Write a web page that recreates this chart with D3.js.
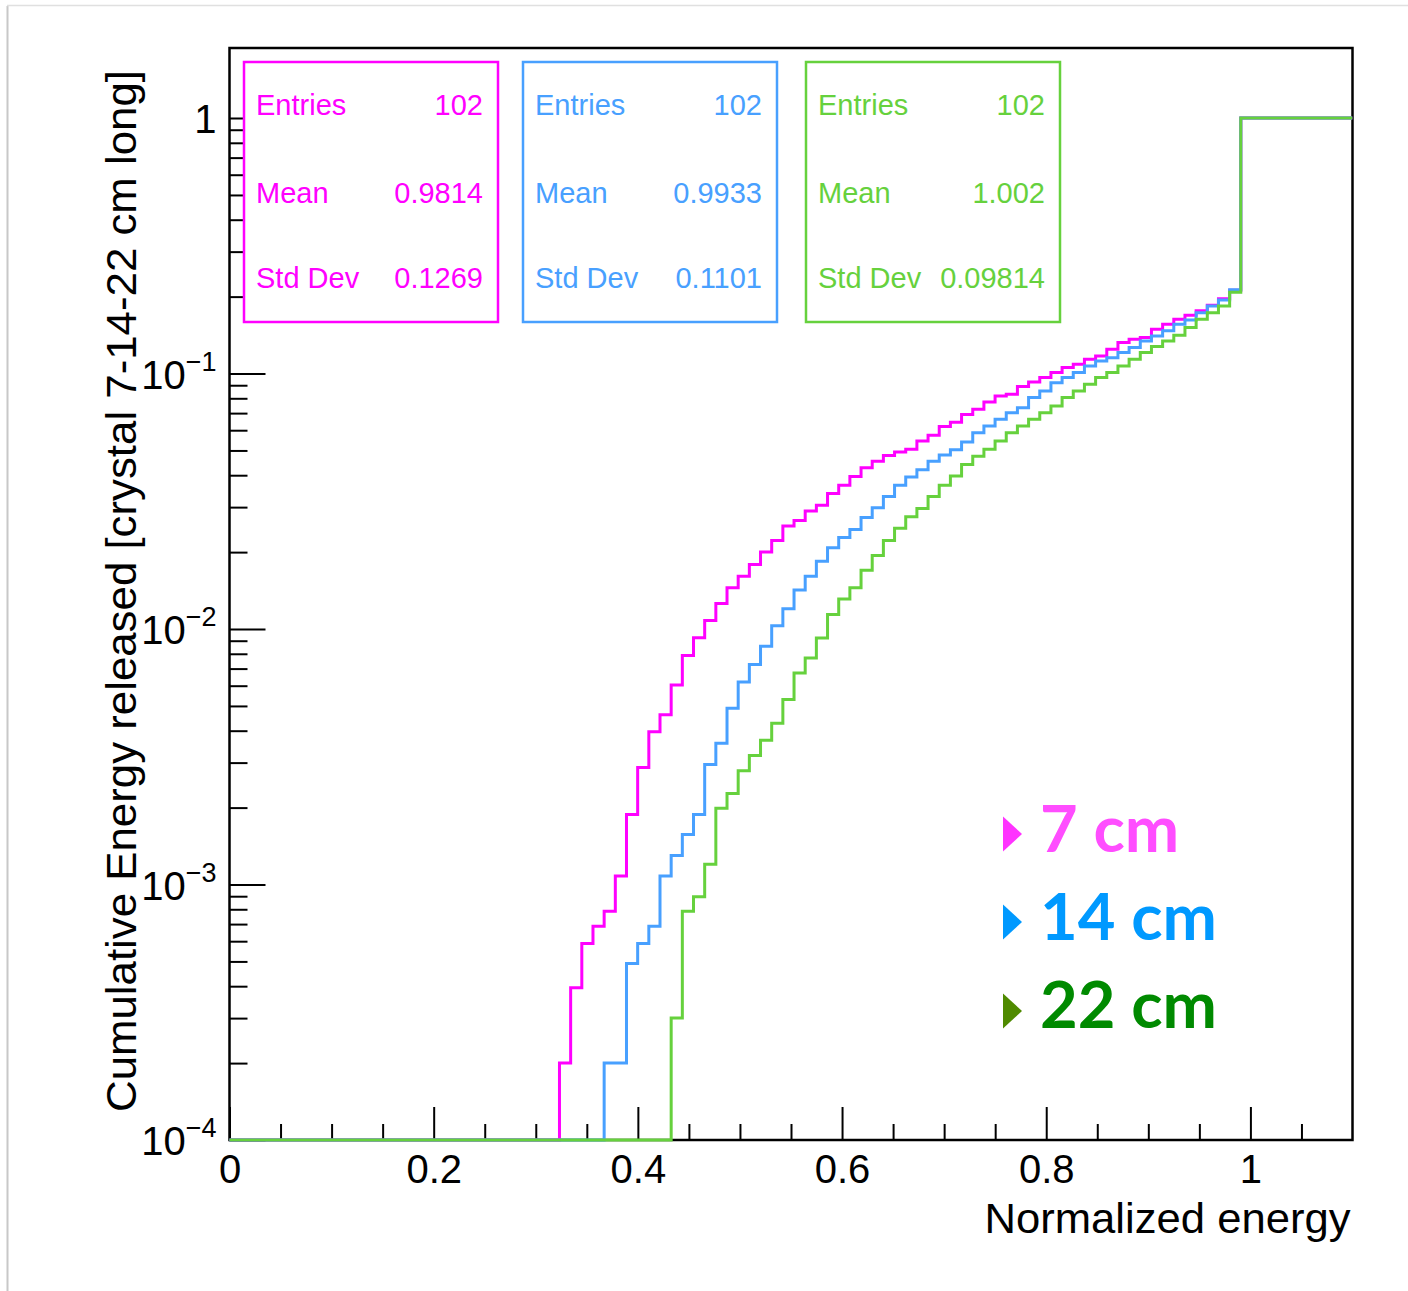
<!DOCTYPE html>
<html>
<head>
<meta charset="utf-8">
<script src="https://cdn.jsdelivr.net/npm/d3@7/dist/d3.min.js"></script>
<style>
  body { margin: 0; background: #fff; }
  svg { display: block; font-family: "Liberation Sans", Arial, sans-serif; }
</style>
</head>
<body>
<svg id="canvas"></svg>
<script>
// histogram binning (101 bins from -0.005 to 1.1)
const binLow = -0.005;
const binHigh = 1.1;
const binCount = 101;

// cumulative values, one per bin, starting at the first non-empty bin
const magentaStart = 30;
const magentaValues = [
  2.0e-4, 3.94e-4, 5.88e-4, 6.87e-4, 7.85e-4, 1.08e-3, 1.88e-3, 2.87e-3, 3.96e-3, 4.62e-3,
  6.04e-3, 7.87e-3, 9.24e-3, 1.08e-2, 1.26e-2, 1.45e-2, 1.61e-2, 1.79e-2, 2.0e-2, 2.22e-2,
  2.53e-2, 2.66e-2, 2.9e-2, 3.05e-2, 3.39e-2, 3.65e-2, 3.95e-2, 4.28e-2, 4.54e-2, 4.78e-2,
  4.93e-2, 5.05e-2, 5.44e-2, 5.73e-2, 6.2e-2, 6.45e-2, 0.0692, 0.0724, 0.0774, 0.0817,
  0.0829, 0.0889, 0.0927, 0.0964, 0.1009, 0.1055, 0.1087, 0.1137, 0.1172, 0.1245,
  0.1322, 0.1362, 0.1383, 0.149, 0.156, 0.163, 0.169, 0.176, 0.185, 0.196,
  0.212, 1, 1, 1, 1, 1, 1, 1, 1, 1, 1
];

const blueStart = 34;
const blueValues = [
  2.0e-4, 2.0e-4, 4.91e-4, 5.88e-4, 6.87e-4, 1.08e-3, 1.30e-3, 1.57e-3, 1.88e-3, 2.95e-3,
  3.57e-3, 4.9e-3, 6.2e-3, 7.26e-3, 8.57e-3, 1.03e-2, 1.2e-2, 1.42e-2, 1.61e-2, 1.84e-2,
  2.08e-2, 2.28e-2, 2.45e-2, 2.73e-2, 2.98e-2, 3.3e-2, 3.65e-2, 3.94e-2, 4.2e-2, 4.54e-2,
  4.8e-2, 5.03e-2, 0.0539, 0.0587, 0.0623, 0.0662, 0.0703, 0.0735, 0.0805, 0.0855,
  0.0921, 0.0964, 0.1009, 0.1071, 0.112, 0.1154, 0.1208, 0.1264, 0.1342, 0.1403,
  0.1469, 0.156, 0.162, 0.173, 0.184, 0.194, 0.213, 1, 1, 1, 1, 1, 1, 1, 1, 1, 1
];

const greenStart = 40;
const greenValues = [
  3.0e-4, 7.85e-4, 8.95e-4, 1.2e-3, 1.99e-3, 2.27e-3, 2.79e-3, 3.2e-3, 3.67e-3, 4.28e-3,
  5.3e-3, 6.73e-3, 7.71e-3, 9.23e-3, 1.14e-2, 1.31e-2, 1.45e-2, 1.7e-2, 1.94e-2, 2.22e-2,
  2.48e-2, 2.75e-2, 2.96e-2, 3.3e-2, 3.65e-2, 3.97e-2, 0.0441, 0.0475, 0.0505, 0.0544,
  0.0587, 0.0623, 0.0662, 0.0703, 0.0746, 0.0805, 0.0855, 0.0908, 0.0964, 0.1009,
  0.1071, 0.1137, 0.1208, 0.1276, 0.1342, 0.1412, 0.1514, 0.163, 0.173, 0.184,
  0.208, 1, 1, 1, 1, 1, 1, 1, 1, 1, 1
];

const legendNames = ["7 cm", "14 cm", "22 cm"];
const statLabels = ["Entries", "Mean", "Std Dev"];
const magentaStats = ["102", "0.9814", "0.1269"];
const blueStats = ["102", "0.9933", "0.1101"];
const greenStats = ["102", "1.002", "0.09814"];

const xMajorTicks = [0, 0.2, 0.4, 0.6, 0.8, 1];
const xTickLabels = ["0", "0.2", "0.4", "0.6", "0.8", "1"];
const xMinorTicks = [0.05, 0.1, 0.15, 0.25, 0.3, 0.35, 0.45, 0.5, 0.55, 0.65, 0.7, 0.75,
  0.85, 0.9, 0.95, 1.05];
const yDecades = [1e-4, 1e-3, 1e-2, 1e-1, 1];
const yDecadeLabels = [["10", "\u22124"], ["10", "\u22123"], ["10", "\u22122"], ["10", "\u22121"], ["1", ""]];

const xTitle = "Normalized energy";
const yTitle = "Cumulative Energy released [crystal 7-14-22 cm long]";

function getChartConfig() {
  let canvasWidth = 1408,
    canvasHeight = 1291;
  let plot = { left: 229.5, top: 48, right: 1352.5, bottom: 1140 };

  let svg = d3.select("#canvas");
  svg.attr("width", canvasWidth);
  svg.attr("height", canvasHeight);

  return { canvasWidth, canvasHeight, plot, svg };
}

function getChartScales(config) {
  let { plot } = config;
  let xScale = d3.scaleLinear().domain([0, 1.1]).range([plot.left, plot.right]);
  let yScale = d3.scaleLog().domain([1e-4, 1.88]).range([plot.bottom, plot.top]);
  return { xScale, yScale };
}

function drawPageEdge(config) {
  let { svg, canvasHeight, canvasWidth } = config;
  svg.append("line")
    .attr("x1", 7.5).attr("x2", 7.5).attr("y1", 6).attr("y2", canvasHeight)
    .attr("stroke", "#c8c8c8").attr("stroke-width", 2);
  svg.append("line")
    .attr("x1", 7).attr("x2", canvasWidth).attr("y1", 5.5).attr("y2", 5.5)
    .attr("stroke", "#e0e0e0").attr("stroke-width", 1.5);
}

function drawAxes(scales, config) {
  let { xScale, yScale } = scales;
  let { svg, plot } = config;

  // frame
  svg.append("rect")
    .attr("x", plot.left)
    .attr("y", plot.top)
    .attr("width", plot.right - plot.left)
    .attr("height", plot.bottom - plot.top)
    .attr("fill", "none")
    .attr("stroke", "#000")
    .attr("stroke-width", 2.5);

  // x ticks (pointing into the frame)
  svg.append("g")
    .attr("transform", `translate(0,${plot.bottom})`)
    .call(d3.axisTop(xScale).tickValues(xMajorTicks).tickSize(33).tickFormat(""))
    .call((g) => g.select(".domain").remove())
    .call((g) => g.selectAll("line").attr("stroke", "#000").attr("stroke-width", 2));

  svg.append("g")
    .attr("transform", `translate(0,${plot.bottom})`)
    .call(d3.axisTop(xScale).tickValues(xMinorTicks).tickSize(16).tickFormat(""))
    .call((g) => g.select(".domain").remove())
    .call((g) => g.selectAll("line").attr("stroke", "#000").attr("stroke-width", 2));

  svg.append("g")
    .attr("transform", `translate(0,${plot.bottom})`)
    .call(d3.axisBottom(xScale).tickValues(xMajorTicks).tickSize(0).tickPadding(15)
      .tickFormat((d, i) => xTickLabels[i]))
    .call((g) => g.select(".domain").remove())
    .call((g) => g.selectAll("text")
      .attr("font-size", 40)
      .attr("fill", "#000")
      .attr("font-family", "Liberation Sans, Arial, sans-serif"));

  // y ticks, log scale
  let yMinor = [];
  yDecades.forEach((d) => {
    for (let m = 2; m <= 9; m++) {
      if (d * m <= yScale.domain()[1]) yMinor.push(d * m);
    }
  });

  svg.append("g")
    .attr("transform", `translate(${plot.left},0)`)
    .call(d3.axisRight(yScale).tickValues(yDecades).tickSize(36).tickFormat(""))
    .call((g) => g.select(".domain").remove())
    .call((g) => g.selectAll("line").attr("stroke", "#000").attr("stroke-width", 2));

  svg.append("g")
    .attr("transform", `translate(${plot.left},0)`)
    .call(d3.axisRight(yScale).tickValues(yMinor).tickSize(18).tickFormat(""))
    .call((g) => g.select(".domain").remove())
    .call((g) => g.selectAll("line").attr("stroke", "#000").attr("stroke-width", 2));

  let yLabels = svg.append("g").attr("id", "y-labels");
  yDecades.forEach((d, i) => {
    let t = yLabels.append("text")
      .attr("x", plot.left - 13)
      .attr("y", yScale(d) + 15)
      .attr("text-anchor", "end")
      .attr("font-size", 40)
      .attr("fill", "#000");
    t.append("tspan").text(yDecadeLabels[i][0]);
    if (yDecadeLabels[i][1]) {
      t.append("tspan")
        .attr("font-size", 27)
        .attr("dy", -18)
        .text(yDecadeLabels[i][1]);
    }
  });

  svg.append("text")
    .attr("x", plot.right - 2)
    .attr("y", 1233)
    .attr("text-anchor", "end")
    .attr("font-size", 43)
    .attr("textLength", 366)
    .attr("lengthAdjust", "spacingAndGlyphs")
    .attr("fill", "#000")
    .text(xTitle);

  svg.append("text")
    .attr("transform", `translate(136,${(70 + 1112) / 2}) rotate(-90)`)
    .attr("text-anchor", "middle")
    .attr("font-size", 42)
    .attr("textLength", 1042)
    .attr("lengthAdjust", "spacingAndGlyphs")
    .attr("fill", "#000")
    .text(yTitle);
}

function stepPoints(start, values) {
  const w = (binHigh - binLow) / binCount;
  const pts = [];
  for (let k = 0; k < binCount; k++) {
    const v = k < start ? 0 : values[k - start];
    pts.push([binLow + k * w, v], [binLow + (k + 1) * w, v]);
  }
  return pts;
}

function drawChart(scales, config) {
  let { xScale, yScale } = scales;
  let { svg, plot } = config;
  let yMin = yScale.domain()[0];

  // histograms are painted over the frame, so the clip reaches a little past it
  svg.append("clipPath").attr("id", "plot-clip")
    .append("rect")
    .attr("x", plot.left).attr("y", plot.top - 2)
    .attr("width", plot.right - plot.left)
    .attr("height", plot.bottom - plot.top + 4);

  const lineGen = d3.line()
    .x((d) => xScale(d[0]))
    .y((d) => yScale(d[1] > 0 ? d[1] : yMin));

  const series = [
    { start: magentaStart, values: magentaValues, color: "#ff00ff" },
    { start: blueStart, values: blueValues, color: "#48a0ff" },
    { start: greenStart, values: greenValues, color: "#66d13d" },
  ];

  series.forEach((s) => {
    svg.append("path")
      .datum(stepPoints(s.start, s.values))
      .attr("clip-path", "url(#plot-clip)")
      .attr("fill", "none")
      .attr("stroke", s.color)
      .attr("stroke-width", 3)
      .attr("d", lineGen);
  });
}

function drawStats(config) {
  let { svg } = config;
  const boxes = [
    { x: 244, stats: magentaStats, color: "#ff00ff" },
    { x: 523, stats: blueStats, color: "#48a0ff" },
    { x: 806, stats: greenStats, color: "#66d13d" },
  ];
  const boxW = 254, boxTop = 62, boxH = 260;
  const rowY = [115, 203, 288];

  boxes.forEach((b) => {
    let g = svg.append("g");
    g.append("rect")
      .attr("x", b.x).attr("y", boxTop)
      .attr("width", boxW).attr("height", boxH)
      .attr("fill", "#fff")
      .attr("stroke", b.color)
      .attr("stroke-width", 2.5);
    statLabels.forEach((lab, i) => {
      g.append("text")
        .attr("x", b.x + 12).attr("y", rowY[i])
        .attr("font-size", 29).attr("fill", b.color)
        .text(lab);
      g.append("text")
        .attr("x", b.x + boxW - 15).attr("y", rowY[i])
        .attr("text-anchor", "end")
        .attr("font-size", 29).attr("fill", b.color)
        .text(b.stats[i]);
    });
  });
}

function drawLegend(config) {
  let { svg } = config;
  const items = [
    { cy: 834, base: 852, tri: "#ff33ff", text: "#ff4dff" },
    { cy: 922, base: 940, tri: "#0099ff", text: "#0099ff" },
    { cy: 1011, base: 1028, tri: "#4f8a00", text: "#008a00" },
  ];
  let legend = svg.append("g").attr("class", "legend");
  items.forEach((it, i) => {
    const p = d3.path();
    p.moveTo(1003, it.cy - 17.5);
    p.lineTo(1022, it.cy);
    p.lineTo(1003, it.cy + 17.5);
    p.closePath();
    legend.append("path").attr("d", p.toString()).attr("fill", it.tri);
    legend.append("text")
      .attr("x", 1040).attr("y", it.base)
      .attr("font-family", "Lato, 'Noto Sans', sans-serif")
      .attr("font-weight", 700)
      .attr("font-size", 65)
      .attr("fill", it.text)
      .text(legendNames[i]);
  });
}

function showData() {
  let config = getChartConfig();
  let scales = getChartScales(config);
  drawPageEdge(config);
  drawAxes(scales, config);
  drawChart(scales, config);
  drawStats(config);
  drawLegend(config);
}

showData();
</script>
</body>
</html>
